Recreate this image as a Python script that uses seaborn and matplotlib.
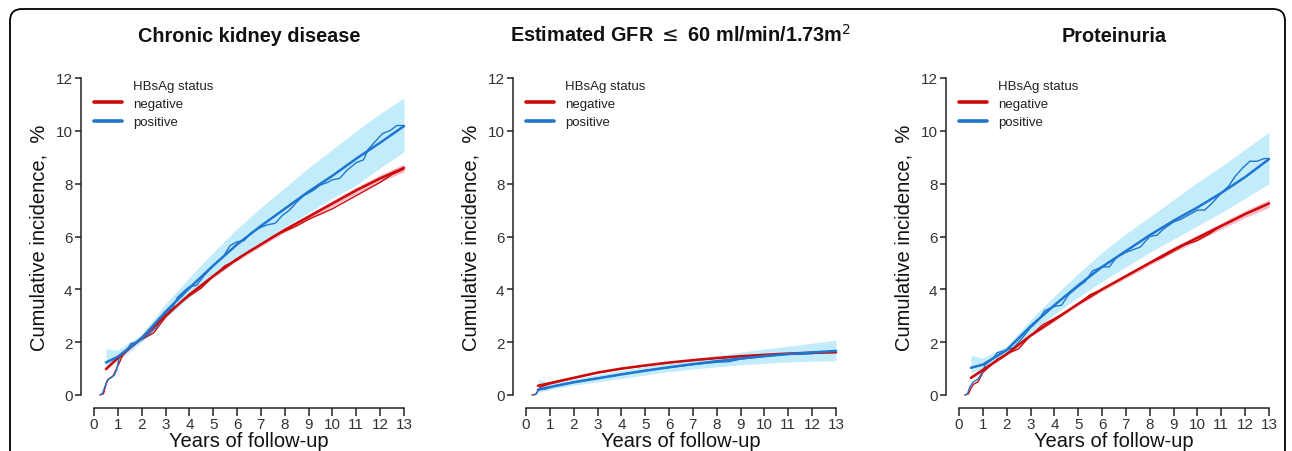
import numpy as np
import pandas as pd
import matplotlib
matplotlib.use("Agg")
import matplotlib.pyplot as plt
from matplotlib.lines import Line2D
from matplotlib.patches import FancyBboxPatch
from matplotlib.transforms import IdentityTransform
import seaborn as sns

sns.set_theme(style="white")
plt.rcParams['font.family'] = ['Liberation Sans', 'DejaVu Sans']

# ---------------- data ----------------
titles = ["Chronic kidney disease",
          r"Estimated GFR $\leq$ 60 ml/min/1.73m$^{2}$",
          "Proteinuria"]
groups = ["negative", "positive"]
legend_title = "HBsAg status"
x_ticks = list(range(0, 14))
y_ticks = [0, 2, 4, 6, 8, 10, 12]

fit_years = [0.5, 1, 2, 3, 4, 5, 6, 7, 8, 9, 10, 11, 12, 13]

# panel 1: chronic kidney disease
ckd_neg_fit = [0.98, 1.40, 2.15, 3.00, 3.80, 4.50, 5.15, 5.70, 6.25, 6.75, 7.25, 7.75, 8.20, 8.60]
ckd_neg_lo  = [0.93, 1.35, 2.10, 2.95, 3.74, 4.44, 5.08, 5.62, 6.16, 6.65, 7.14, 7.63, 8.07, 8.45]
ckd_neg_hi  = [1.03, 1.45, 2.20, 3.05, 3.86, 4.56, 5.22, 5.78, 6.34, 6.85, 7.36, 7.87, 8.33, 8.75]
ckd_pos_fit = [1.23, 1.45, 2.15, 3.15, 4.05, 4.90, 5.70, 6.40, 7.05, 7.70, 8.30, 8.95, 9.55, 10.18]
ckd_pos_lo  = [1.00, 1.30, 2.00, 2.90, 3.70, 4.45, 5.15, 5.75, 6.35, 6.90, 7.45, 7.95, 8.60, 9.20]
ckd_pos_hi  = [1.75, 1.70, 2.30, 3.45, 4.45, 5.40, 6.30, 7.10, 7.85, 8.60, 9.30, 10.00, 10.65, 11.25]
ckd_neg_km_x = [0.25, 0.4, 0.5, 0.6, 0.8, 1.0, 1.2, 1.6, 2.0, 2.5, 3.0, 3.5, 4.0, 4.5, 5.0, 5.5, 6.0, 6.5,
                7.0, 7.5, 8.0, 8.5, 9.0, 9.5, 10.0, 10.5, 11.0, 11.5, 12.0, 12.5, 13.0]
ckd_neg_km_y = [0.0, 0.05, 0.4, 0.6, 0.72, 1.1, 1.5, 1.9, 2.1, 2.35, 2.95, 3.4, 3.75, 4.05, 4.5, 4.9, 5.1, 5.45,
                5.7, 6.0, 6.2, 6.4, 6.65, 6.85, 7.05, 7.3, 7.55, 7.8, 8.05, 8.35, 8.55]
ckd_pos_km_x = [0.25, 0.35, 0.45, 0.55, 0.7, 0.85, 0.95, 1.05, 1.3, 1.55, 1.8, 2.0, 2.3, 2.6, 3.0, 3.3, 3.5,
                3.8, 4.0, 4.3, 4.6, 5.0, 5.4, 5.7, 6.0, 6.3, 6.6, 7.0, 7.3, 7.6, 7.9, 8.2, 8.5, 8.8, 9.2,
                9.5, 9.8, 10.0, 10.3, 10.6, 11.0, 11.3, 11.5, 11.8, 12.1, 12.4, 12.7, 13.0]
ckd_pos_km_y = [0.0, 0.05, 0.3, 0.55, 0.65, 0.75, 0.95, 1.4, 1.6, 1.95, 2.0, 2.1, 2.3, 2.55, 3.1, 3.3, 3.7,
                3.95, 4.1, 4.15, 4.5, 4.9, 5.2, 5.65, 5.8, 5.85, 6.15, 6.35, 6.45, 6.5, 6.8, 7.0, 7.3, 7.55,
                7.75, 7.95, 8.05, 8.15, 8.2, 8.5, 8.8, 8.9, 9.3, 9.6, 9.9, 10.0, 10.2, 10.2]

# panel 2: eGFR <= 60
gfr_neg_fit = [0.35, 0.45, 0.65, 0.85, 1.00, 1.12, 1.23, 1.32, 1.40, 1.47, 1.52, 1.57, 1.60, 1.62]
gfr_neg_lo  = [0.32, 0.42, 0.62, 0.82, 0.97, 1.09, 1.20, 1.29, 1.36, 1.43, 1.48, 1.52, 1.55, 1.57]
gfr_neg_hi  = [0.38, 0.48, 0.68, 0.88, 1.03, 1.15, 1.26, 1.35, 1.44, 1.51, 1.56, 1.62, 1.65, 1.67]
gfr_pos_fit = [0.20, 0.30, 0.48, 0.63, 0.78, 0.92, 1.05, 1.17, 1.28, 1.38, 1.47, 1.55, 1.61, 1.67]
gfr_pos_lo  = [0.10, 0.20, 0.37, 0.50, 0.63, 0.76, 0.88, 0.98, 1.07, 1.14, 1.20, 1.25, 1.28, 1.30]
gfr_pos_hi  = [0.60, 0.45, 0.60, 0.77, 0.93, 1.08, 1.22, 1.36, 1.50, 1.62, 1.74, 1.85, 1.96, 2.08]
gfr_neg_km_x = [0.25, 0.4, 0.5, 0.6, 1.0, 2.0, 3.0, 4.0, 5.0, 6.0, 7.0, 8.0, 9.0, 10.0, 11.0, 12.0, 13.0]
gfr_neg_km_y = [0.0, 0.02, 0.15, 0.3, 0.42, 0.64, 0.84, 0.99, 1.11, 1.22, 1.31, 1.39, 1.46, 1.52, 1.56, 1.59, 1.61]
gfr_pos_km_x = [0.3, 0.45, 0.5, 0.8, 1.0, 1.2, 2.0, 3.0, 4.0, 5.0, 6.0, 7.0, 8.0, 8.5, 9.0, 10.0, 11.0, 12.0,
                12.3, 13.0]
gfr_pos_km_y = [0.0, 0.05, 0.2, 0.22, 0.28, 0.35, 0.5, 0.64, 0.78, 0.93, 1.04, 1.15, 1.24, 1.26, 1.36, 1.46,
                1.54, 1.56, 1.62, 1.66]

# panel 3: proteinuria
pro_neg_fit = [0.65, 0.95, 1.55, 2.25, 2.85, 3.45, 4.00, 4.50, 5.00, 5.50, 5.95, 6.40, 6.85, 7.25]
pro_neg_lo  = [0.60, 0.90, 1.50, 2.20, 2.79, 3.39, 3.93, 4.42, 4.91, 5.40, 5.84, 6.28, 6.72, 7.10]
pro_neg_hi  = [0.70, 1.00, 1.60, 2.30, 2.91, 3.51, 4.07, 4.58, 5.09, 5.60, 6.06, 6.52, 6.98, 7.40]
pro_pos_fit = [1.03, 1.15, 1.70, 2.60, 3.40, 4.15, 4.85, 5.45, 6.05, 6.60, 7.10, 7.65, 8.25, 8.93]
pro_pos_lo  = [0.85, 1.00, 1.55, 2.35, 3.05, 3.70, 4.30, 4.85, 5.40, 5.90, 6.40, 6.90, 7.45, 8.00]
pro_pos_hi  = [1.50, 1.40, 1.85, 2.85, 3.75, 4.60, 5.40, 6.10, 6.75, 7.40, 8.05, 8.65, 9.30, 9.95]
pro_neg_km_x = [0.25, 0.4, 0.5, 0.6, 0.8, 1.0, 1.3, 1.6, 2.0, 2.5, 3.0, 3.5, 4.0, 4.5, 5.0, 5.5, 6.0, 6.5,
                7.0, 7.5, 8.0, 8.5, 9.0, 9.5, 10.0, 10.5, 11.0, 11.5, 12.0, 12.5, 13.0]
pro_neg_km_y = [0.0, 0.05, 0.25, 0.4, 0.5, 0.85, 1.1, 1.35, 1.55, 1.75, 2.25, 2.65, 2.9, 3.15, 3.45, 3.8, 4.0,
                4.25, 4.5, 4.75, 5.0, 5.2, 5.45, 5.7, 5.85, 6.1, 6.4, 6.6, 6.85, 7.05, 7.25]
pro_pos_km_x = [0.25, 0.35, 0.45, 0.6, 0.8, 1.0, 1.1, 1.4, 1.6, 2.0, 2.3, 2.6, 3.0, 3.3, 3.6, 4.0, 4.3, 4.6,
                5.0, 5.3, 5.6, 6.0, 6.3, 6.6, 7.0, 7.3, 7.6, 8.0, 8.3, 8.6, 9.0, 9.3, 9.6, 10.0, 10.3, 10.6,
                11.0, 11.3, 11.6, 11.9, 12.2, 12.5, 12.8, 13.0]
pro_pos_km_y = [0.0, 0.03, 0.3, 0.5, 0.6, 0.9, 1.15, 1.35, 1.6, 1.7, 1.8, 2.1, 2.55, 2.8, 3.2, 3.35, 3.4, 3.8,
                4.1, 4.3, 4.7, 4.85, 4.85, 5.2, 5.4, 5.5, 5.6, 6.0, 6.05, 6.3, 6.55, 6.65, 6.8, 7.0, 7.0, 7.25,
                7.65, 7.9, 8.3, 8.6, 8.85, 8.85, 8.95, 8.95]

panels = [
    dict(neg=(ckd_neg_fit, ckd_neg_lo, ckd_neg_hi, ckd_neg_km_x, ckd_neg_km_y),
         pos=(ckd_pos_fit, ckd_pos_lo, ckd_pos_hi, ckd_pos_km_x, ckd_pos_km_y)),
    dict(neg=(gfr_neg_fit, gfr_neg_lo, gfr_neg_hi, gfr_neg_km_x, gfr_neg_km_y),
         pos=(gfr_pos_fit, gfr_pos_lo, gfr_pos_hi, gfr_pos_km_x, gfr_pos_km_y)),
    dict(neg=(pro_neg_fit, pro_neg_lo, pro_neg_hi, pro_neg_km_x, pro_neg_km_y),
         pos=(pro_pos_fit, pro_pos_lo, pro_pos_hi, pro_pos_km_x, pro_pos_km_y)),
]

# ---------------- style ----------------
RED = "#cc0a0a"
BLUE = "#1f76cf"
RED_BAND = "#f3a3b4"
BLUE_BAND = "#bdeafb"
colors = {"negative": RED, "positive": BLUE}
bands = {"negative": RED_BAND, "positive": BLUE_BAND}

W, H = 1292, 452
fig = plt.figure(figsize=(W / 100, H / 100), dpi=100)

# rounded border (pixel coordinates)
border = FancyBboxPatch((10, -60), 1275, (H - 10) + 60,
                        boxstyle="round,pad=0,rounding_size=12",
                        transform=IdentityTransform(), fill=False, edgecolor="black",
                        linewidth=1.3, clip_on=False)
fig.patches.append(border)

lefts_px = [94, 526, 959]
ax_w_px = 310
top_px, bot_px = 79, 396

for i, (left_px, title, pdata) in enumerate(zip(lefts_px, titles, panels)):
    ax = fig.add_axes([left_px / W, 1 - bot_px / H, ax_w_px / W, (bot_px - top_px) / H])
    ax.set_facecolor("white")
    for g in groups:
        fit, lo, hi, kmx, kmy = pdata["neg" if g == "negative" else "pos"]
        ax.fill_between(fit_years, lo, hi, color=bands[g], linewidth=0,
                        alpha=0.9 if g == "positive" else 0.75, zorder=1)
    for g in groups:
        fit, lo, hi, kmx, kmy = pdata["neg" if g == "negative" else "pos"]
        df_km = pd.DataFrame({"x": kmx, "y": kmy})
        sns.lineplot(data=df_km, x="x", y="y", ax=ax, color=colors[g], linewidth=1.0,
                     legend=False, zorder=3, estimator=None, sort=False)
        df_fit = pd.DataFrame({"x": fit_years, "y": fit})
        sns.lineplot(data=df_fit, x="x", y="y", ax=ax, color=colors[g], linewidth=1.8,
                     legend=False, zorder=4, estimator=None, sort=False)
    for ln in ax.lines:
        ln.set_clip_on(False)

    ax.set_xlim(0, 13)
    ax.set_ylim(0, 12)
    ax.set_xticks(x_ticks)
    ax.set_yticks(y_ticks)
    ax.set_xticklabels([str(t) for t in x_ticks], fontsize=9.5)
    ax.set_yticklabels([str(t) for t in y_ticks], fontsize=8.5)
    for s in ["top", "right"]:
        ax.spines[s].set_visible(False)
    ax.spines["left"].set_position(("outward", 9.4))
    ax.spines["bottom"].set_position(("outward", 9.4))
    ax.spines["left"].set_bounds(0, 12)
    ax.spines["bottom"].set_bounds(0, 13)
    for s in ["left", "bottom"]:
        ax.spines[s].set_linewidth(1.1)
        ax.spines[s].set_color("#222222")
    ax.tick_params(axis="both", direction="out", width=1.1, color="#222222",
                   labelcolor="#333333", left=True, bottom=True)
    ax.tick_params(axis="y", length=4.5, pad=1.5)
    ax.tick_params(axis="x", length=5.5, pad=1)

    ax.set_xlabel("Years of follow-up", fontsize=14.5, labelpad=0, color="#111111")
    ax.set_ylabel("Cumulative incidence,  %", fontsize=14.5, labelpad=5, color="#111111")
    ax.set_title(title, fontsize=14.3, fontweight="bold", pad=27, color="#111111")

    handles = [Line2D([], [], alpha=0, label=legend_title),
               Line2D([], [], color=RED, linewidth=2.6, label=groups[0]),
               Line2D([], [], color=BLUE, linewidth=2.6, label=groups[1])]
    leg = ax.legend(handles=handles, loc="upper left", bbox_to_anchor=(0.0, 0.995),
                    frameon=False, fontsize=9.5, handlelength=2.1, handletextpad=0.85,
                    labelspacing=0.45, borderaxespad=0, borderpad=0)
    for t in leg.get_texts():
        t.set_color("#222222")

fig.savefig("out.png", dpi=100, facecolor="white")
